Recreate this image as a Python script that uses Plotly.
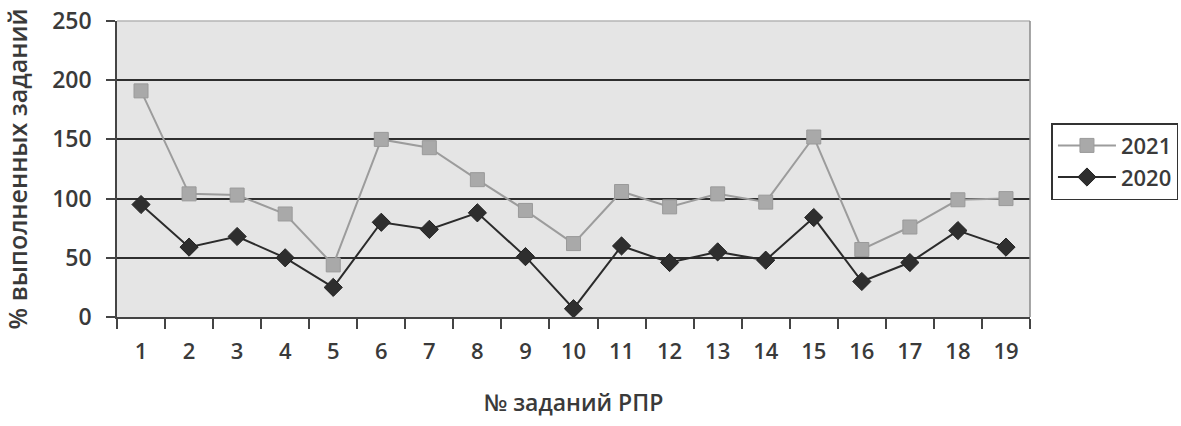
import plotly.graph_objects as go

tasks = [str(i) for i in range(1, 20)]
y2021 = [191, 104, 103, 87, 44, 150, 143, 116, 90, 62, 106, 93, 104, 97, 152, 57, 76, 99, 100]
y2020 = [95, 59, 68, 50, 25, 80, 74, 88, 51, 7, 60, 46, 55, 48, 84, 30, 46, 73, 59]
y_ticks = [0, 50, 100, 150, 200, 250]

FONT = "Open Sans"
TXT = "#3a3a3a"

fig = go.Figure()
fig.add_trace(go.Scatter(
    x=tasks, y=y2021, name="2021", mode="lines+markers",
    line=dict(color="#9c9c9c", width=2),
    marker=dict(symbol="square", size=14, color="#a9a9a9", line=dict(color="#9a9a9a", width=1)),
))
fig.add_trace(go.Scatter(
    x=tasks, y=y2020, name="2020", mode="lines+markers",
    line=dict(color="#2b2b2b", width=2),
    marker=dict(symbol="diamond", size=14, color="#2e2e2e", line=dict(color="#222", width=1)),
))

fig.update_layout(
    width=1181, height=426,
    margin=dict(l=117, r=151, t=21, b=109, autoexpand=False),
    paper_bgcolor="white",
    plot_bgcolor="#e5e5e5",
    font=dict(family=FONT, color=TXT),
    showlegend=True,
    legend=dict(
        x=1.0235, y=0.655, xanchor="left", yanchor="top",
        bordercolor="#333", borderwidth=1.5, bgcolor="white",
        font=dict(size=22, color=TXT, family=FONT, weight=600),
        itemwidth=58, tracegroupgap=0,
    ),
    xaxis=dict(
        type="category", range=[-0.5, 18.5], tickson="boundaries",
        ticks="outside", ticklen=10, tickcolor="#444", tickwidth=1.5,
        ticklabelstandoff=14,
        showgrid=False, showline=True, linecolor="#444", linewidth=2,
        tickfont=dict(size=22, family=FONT, color=TXT, weight=600),
        title=dict(text="№ заданий РПР", font=dict(size=23, family=FONT, color=TXT, weight=600), standoff=30),
        zeroline=False, automargin=False,
    ),
    yaxis=dict(
        range=[0, 250], tickvals=y_ticks, ticks="outside", ticklen=9, tickcolor="#444",
        tickwidth=1.5, ticklabelstandoff=10,
        showgrid=True, gridcolor="#2e2e2e", gridwidth=2,
        showline=True, linecolor="#444", linewidth=1.5,
        tickfont=dict(size=23, family=FONT, color=TXT, weight=600),
        title=dict(text="% выполненных заданий", font=dict(size=25, family=FONT, color=TXT, weight=600), standoff=18),
        zeroline=False, automargin=False,
    ),
    shapes=[
        dict(type="line", xref="paper", yref="paper", x0=0, x1=1, y0=1, y1=1,
             line=dict(color="#b5b5b5", width=1.5)),
        dict(type="line", xref="paper", yref="paper", x0=1, x1=1, y0=0, y1=1,
             line=dict(color="#8a8a8a", width=1.5)),
    ],
)

fig.write_html("out.html", config={"displayModeBar": False},
               post_script="document.body.style.margin='0';")
